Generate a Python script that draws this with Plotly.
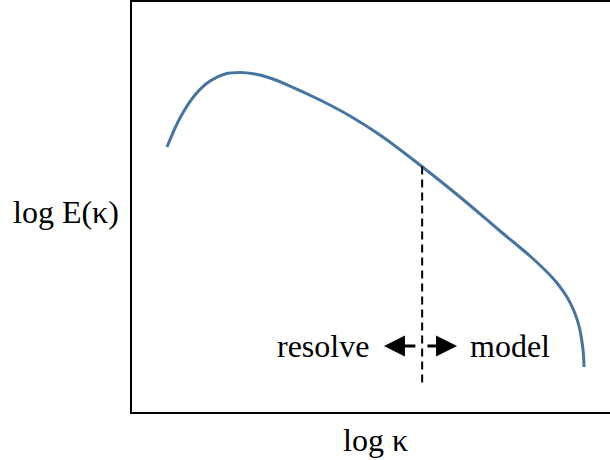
import plotly.graph_objects as go

# Schematic energy spectrum (arbitrary log units)
log_k = [0.732, 1.004, 1.318, 1.632, 1.946, 2.259, 2.573, 2.887, 3.305, 3.933,
         4.561, 5.188, 6.025, 6.862, 7.699, 8.326, 8.640, 8.891, 9.100, 9.247,
         9.351, 9.414, 9.446, 9.456]
log_E = [6.463, 7.171, 7.732, 8.073, 8.244, 8.280, 8.244, 8.146, 7.951, 7.610,
         7.220, 6.756, 6.024, 5.244, 4.415, 3.805, 3.463, 3.146, 2.805, 2.463,
         2.098, 1.707, 1.390, 1.098]

cutoff_k = 6.07
cutoff_E_top = 5.99
cutoff_E_bottom = 0.66
arrow_y = 1.61
left_head, left_tail = 5.27, 5.96
right_tail, right_head = 6.15, 6.80
label_resolve = "resolve"
label_model = "model"
x_title = "log κ"
y_title = "log E(κ)"

FONT = "Liberation Serif"
FS = 32

fig = go.Figure()
fig.add_trace(go.Scatter(x=log_k, y=log_E, mode="lines",
                         line=dict(color="#4874a0", width=3, shape="spline", smoothing=1.0),
                         hoverinfo="skip", showlegend=False))
fig.add_trace(go.Scatter(x=[cutoff_k, cutoff_k], y=[cutoff_E_top, cutoff_E_bottom], mode="lines",
                         line=dict(color="black", width=2, dash="8px,5px"),
                         hoverinfo="skip", showlegend=False))

ann = []
ann.append(dict(x=left_head, y=arrow_y, ax=left_tail, ay=arrow_y, xref="x", yref="y",
                axref="x", ayref="y", text="", showarrow=True, arrowhead=2,
                arrowsize=1.4, arrowwidth=3, arrowcolor="black"))
ann.append(dict(x=right_head, y=arrow_y, ax=right_tail, ay=arrow_y, xref="x", yref="y",
                axref="x", ayref="y", text="", showarrow=True, arrowhead=2,
                arrowsize=1.4, arrowwidth=3, arrowcolor="black"))
ann.append(dict(x=5.0, y=arrow_y, xref="x", yref="y", text=label_resolve, showarrow=False,
                xanchor="right", yanchor="middle", font=dict(family=FONT, size=FS, color="black")))
ann.append(dict(x=7.03, y=arrow_y, xref="x", yref="y", text=label_model, showarrow=False,
                xanchor="left", yanchor="middle", font=dict(family=FONT, size=FS, color="black")))
ann.append(dict(x=0.510, y=-0.068, xref="paper", yref="paper", text=x_title, showarrow=False,
                xanchor="center", yanchor="middle", font=dict(family=FONT, size=FS, color="black")))
ann.append(dict(x=-0.139, y=0.488, xref="paper", yref="paper", text=y_title, showarrow=False,
                xanchor="center", yanchor="middle", font=dict(family=FONT, size=FS, color="black")))

fig.update_layout(
    width=610, height=460,
    margin=dict(l=132, r=0, t=2, b=48),
    paper_bgcolor="white", plot_bgcolor="white",
    font=dict(family=FONT),
    annotations=ann,
    xaxis=dict(range=[0, 10], showgrid=False, zeroline=False, showticklabels=False, ticks="",
               showline=True, linecolor="black", linewidth=2, mirror=True),
    yaxis=dict(range=[0, 10], showgrid=False, zeroline=False, showticklabels=False, ticks="",
               showline=True, linecolor="black", linewidth=2, mirror=False),
)

fig.write_html("out.html")
